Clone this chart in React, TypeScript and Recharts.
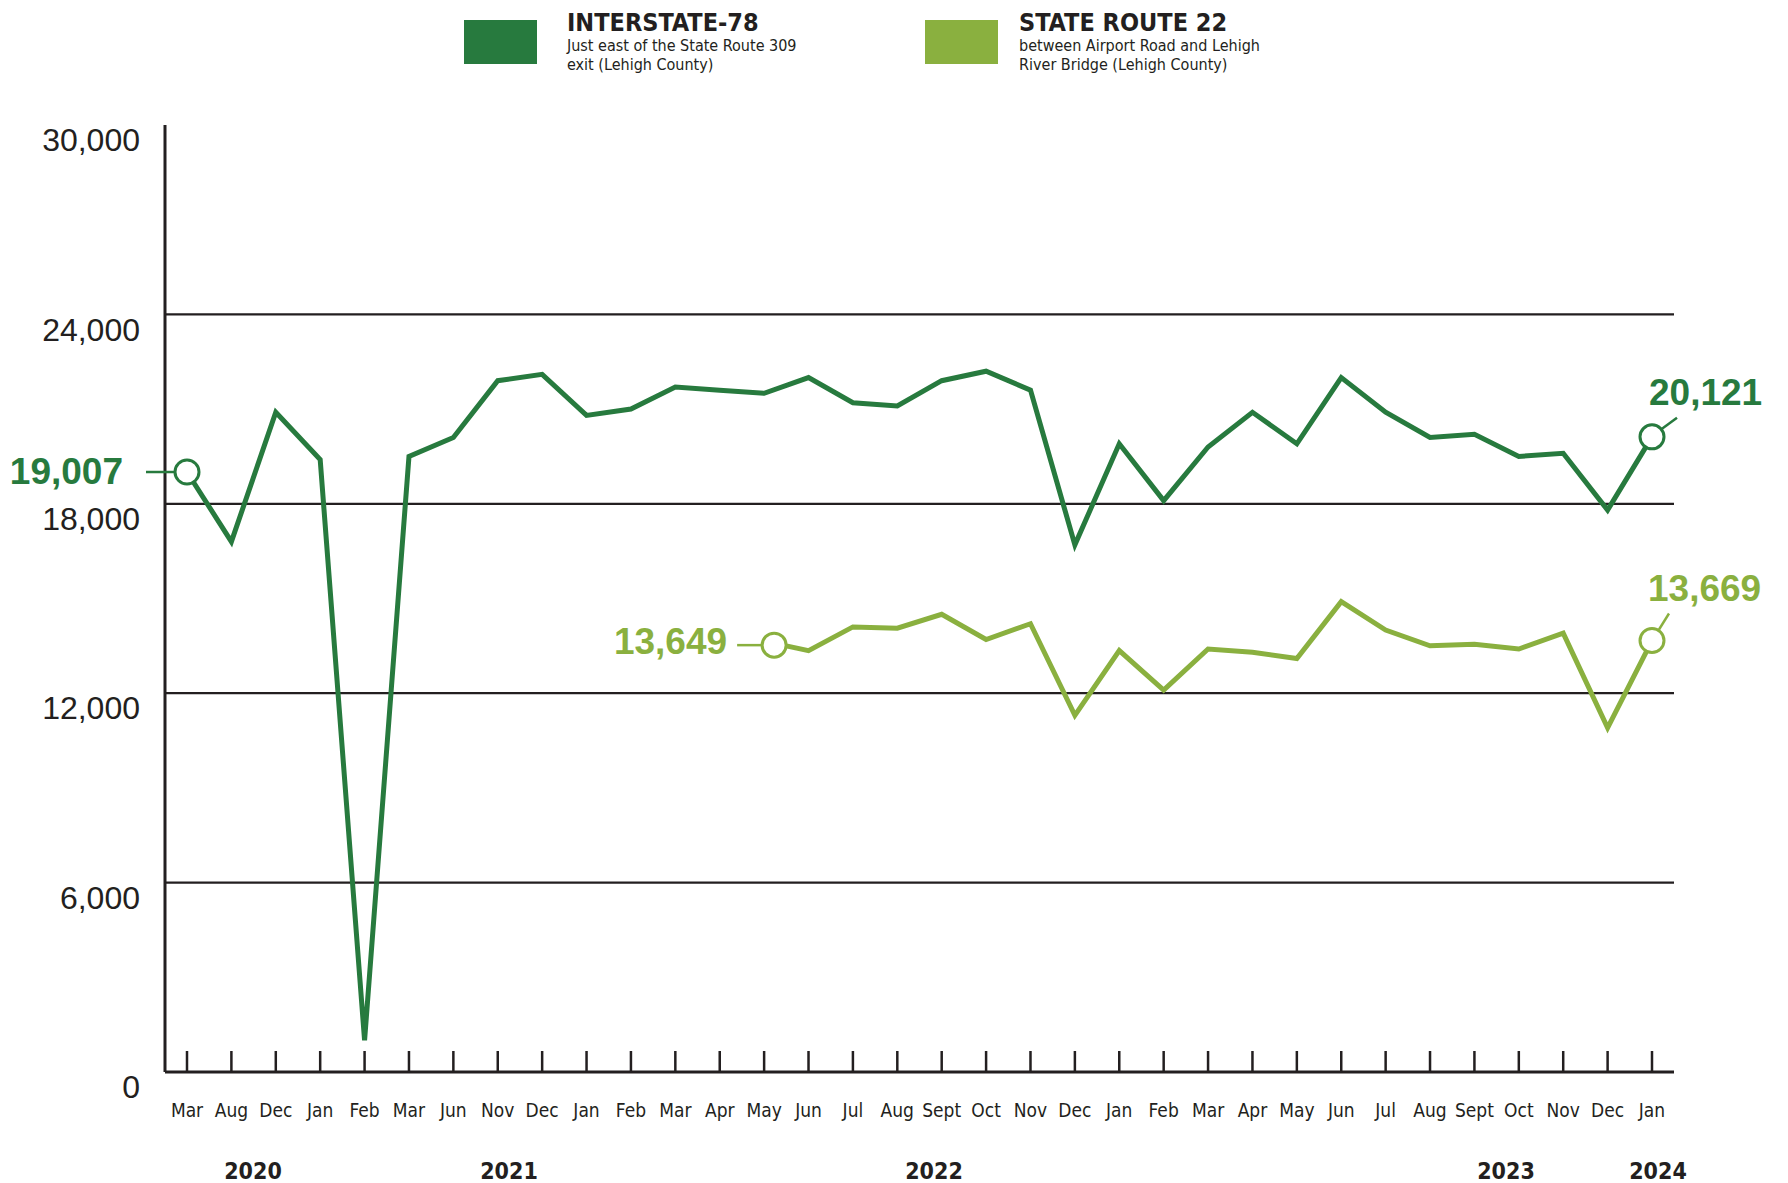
import React from 'react';
import { LineChart, Line, XAxis, YAxis, ReferenceLine } from 'recharts';

// Colours taken from the legend swatches
const DARK = '#277a3e';
const LIGHT = '#8ab03f';
const INK = '#231f20';
const NARROW = "'Liberation Sans Narrow', 'DejaVu Sans Condensed', 'Liberation Sans', sans-serif";
const SANS = "'Liberation Sans', Arial, sans-serif";

const months = [
  'Mar', 'Aug', 'Dec', 'Jan', 'Feb', 'Mar', 'Jun', 'Nov', 'Dec', 'Jan', 'Feb', 'Mar',
  'Apr', 'May', 'Jun', 'Jul', 'Aug', 'Sept', 'Oct', 'Nov', 'Dec', 'Jan', 'Feb', 'Mar',
  'Apr', 'May', 'Jun', 'Jul', 'Aug', 'Sept', 'Oct', 'Nov', 'Dec', 'Jan',
];

// Interstate-78
const i78 = [
  19007, 16800, 20900, 19400, 1000, 19500, 20100, 21900, 22100, 20800, 21000, 21700,
  21600, 21500, 22000, 21200, 21100, 21900, 22200, 21600, 16700, 19900, 18100, 19800,
  20900, 19900, 22000, 20900, 20100, 20200, 19500, 19600, 17800, 20121,
];

// State Route 22 (counts start in May 2022)
const sr22 = [
  null, null, null, null, null, null, null, null, null, null, null, null,
  null, 13649, 13350, 14100, 14060, 14500, 13700, 14200, 11300, 13350, 12100, 13400,
  13300, 13100, 14900, 14000, 13500, 13550, 13400, 13900, 10900, 13669,
];

const yTicks = [0, 6000, 12000, 18000, 24000, 30000];
const gridValues = [6000, 12000, 18000, 24000];

const years = [
  { label: '2020', x: 253 },
  { label: '2021', x: 509 },
  { label: '2022', x: 934 },
  { label: '2023', x: 1506 },
  { label: '2024', x: 1658 },
];

const data = months.map((m, i) => ({ month: m, i78: i78[i], sr22: sr22[i] }));
const last = months.length - 1;

const fmt = (v: number) => v.toLocaleString('en-US');

const YTick = ({ x, y, payload }: any) => (
  <text x={x} y={y + 15} dy="0.35em" textAnchor="end" fill={INK}
    fontFamily={SANS} fontSize={32}>
    {fmt(payload.value)}
  </text>
);

const XTick = ({ x, y, payload }: any) => (
  <g>
    <line x1={x} x2={x} y1={y - 21} y2={y} stroke={INK} strokeWidth={2.5} />
    <text x={x} y={y + 38} dy="0.35em" textAnchor="middle" fill={INK}
      fontFamily={NARROW} fontSize={19}>
      {payload.value}
    </text>
  </g>
);

const labelStyle = { fontFamily: SANS, fontWeight: 700, fontSize: 37 };

const i78Dot = (p: any) => {
  const { cx, cy, index } = p;
  if (index === 0) {
    return (
      <g key={`d-${index}`}>
        <line x1={cx - 41} x2={cx - 12} y1={cy} y2={cy} stroke={DARK} strokeWidth={2.5} />
        <circle cx={cx} cy={cy} r={12} fill="#fff" stroke={DARK} strokeWidth={3} />
        <text x={cx - 64} y={cy - 1} dy="0.35em" textAnchor="end" fill={DARK} style={labelStyle}>
          {fmt(i78[index])}
        </text>
      </g>
    );
  }
  if (index === last) {
    return (
      <g key={`d-${index}`}>
        <line x1={cx + 10} x2={cx + 25} y1={cy - 8} y2={cy - 19} stroke={DARK} strokeWidth={2.5} />
        <circle cx={cx} cy={cy} r={12} fill="#fff" stroke={DARK} strokeWidth={3} />
        <text x={cx - 3} y={cy - 45} dy="0.35em" textAnchor="start" fill={DARK} style={labelStyle}>
          {fmt(i78[index])}
        </text>
      </g>
    );
  }
  return <g key={`d-${index}`} />;
};

const sr22Dot = (p: any) => {
  const { cx, cy, index } = p;
  if (index === 13) {
    const c = cx + 10;
    return (
      <g key={`s-${index}`}>
        <line x1={c - 37} x2={c - 12} y1={cy + 4} y2={cy + 4} stroke={LIGHT} strokeWidth={2.5} />
        <circle cx={c} cy={cy + 4} r={12} fill="#fff" stroke={LIGHT} strokeWidth={3} />
        <text x={c - 47} y={cy} dy="0.35em" textAnchor="end" fill={LIGHT} style={labelStyle}>
          {fmt(sr22[index] as number)}
        </text>
      </g>
    );
  }
  if (index === last) {
    return (
      <g key={`s-${index}`}>
        <line x1={cx + 7} x2={cx + 17} y1={cy - 11} y2={cy - 27} stroke={LIGHT} strokeWidth={2.5} />
        <circle cx={cx} cy={cy} r={12} fill="#fff" stroke={LIGHT} strokeWidth={3} />
        <text x={cx - 4} y={cy - 52} dy="0.35em" textAnchor="start" fill={LIGHT} style={labelStyle}>
          {fmt(sr22[index] as number)}
        </text>
      </g>
    );
  }
  return <g key={`s-${index}`} />;
};

const Legend = () => (
  <svg width={1788} height={90} style={{ position: 'absolute', left: 0, top: 0 }}>
    <rect x={464} y={20} width={73} height={44} fill={DARK} />
    <text x={567} y={31} fill={INK} fontFamily={NARROW} fontWeight={700} fontSize={25}>INTERSTATE-78</text>
    <text x={567} y={51} fill={INK} fontFamily={NARROW} fontSize={16}>Just east of the State Route 309</text>
    <text x={567} y={70} fill={INK} fontFamily={NARROW} fontSize={16}>exit (Lehigh County)</text>
    <rect x={925} y={20} width={73} height={44} fill={LIGHT} />
    <text x={1019} y={31} fill={INK} fontFamily={NARROW} fontWeight={700} fontSize={25}>STATE ROUTE 22</text>
    <text x={1019} y={51} fill={INK} fontFamily={NARROW} fontSize={16}>between Airport Road and Lehigh</text>
    <text x={1019} y={70} fill={INK} fontFamily={NARROW} fontSize={16}>River Bridge (Lehigh County)</text>
  </svg>
);

const Years = () => (
  <svg width={1788} height={60} style={{ position: 'absolute', left: 0, top: 1140 }}>
    {years.map((y) => (
      <text key={y.label} x={y.x} y={31} dy="0.35em" textAnchor="middle" fill={INK}
        fontFamily={NARROW} fontWeight={700} fontSize={23}>
        {y.label}
      </text>
    ))}
  </svg>
);

export default function App() {
  return (
    <div style={{ position: 'absolute', left: 0, top: 0, width: 1788, height: 1183, background: '#fff' }}>
      <LineChart width={1788} height={1183} data={data}
        margin={{ top: 125, right: 114, bottom: 0, left: 0 }}>
        <XAxis dataKey="month" interval={0} height={111} tickSize={0} tickMargin={0}
          padding={{ left: 22, right: 22 }}
          axisLine={{ stroke: INK, strokeWidth: 3 }} tickLine={false} tick={<XTick />} />
        <YAxis domain={[0, 30000]} ticks={yTicks} interval={0} width={165} tickSize={0}
          tickMargin={25} axisLine={{ stroke: INK, strokeWidth: 3 }} tickLine={false}
          tick={<YTick />} />
        {gridValues.map((v) => (
          <ReferenceLine key={v} y={v} stroke={INK} strokeWidth={2.2} />
        ))}
        <Line dataKey="i78" stroke={DARK} strokeWidth={5} strokeLinejoin="miter"
          dot={i78Dot} activeDot={false} isAnimationActive={false} />
        <Line dataKey="sr22" stroke={LIGHT} strokeWidth={5} strokeLinejoin="miter"
          dot={sr22Dot} activeDot={false} isAnimationActive={false} />
      </LineChart>
      <Legend />
      <Years />
    </div>
  );
}
